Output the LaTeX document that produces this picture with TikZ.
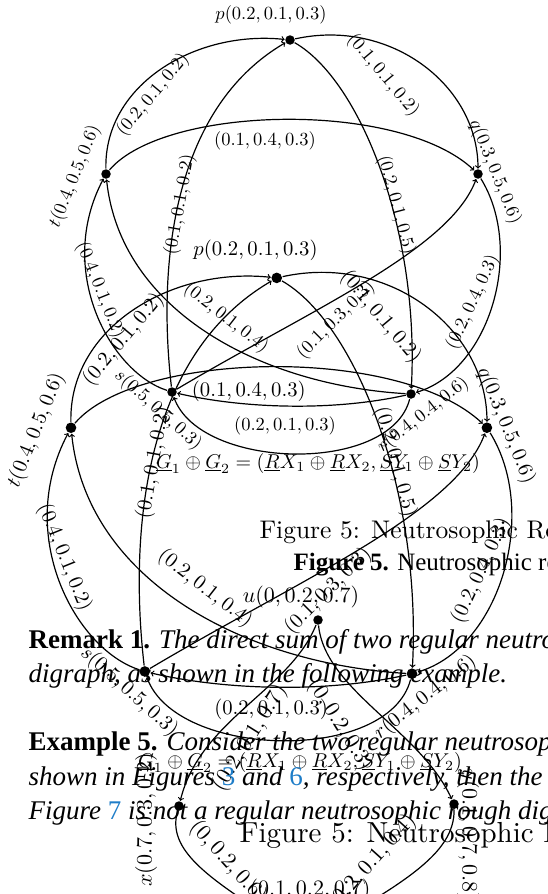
\documentclass[tikz,border=0pt]{standalone}
\usepackage{fontspec}
\usepackage{amsmath}
\usetikzlibrary{calc}

\newfontfamily\bodyfont{Liberation Serif}
\definecolor{refblue}{RGB}{30,125,200}

% one copy of the rough digraph, #1 = name prefix
\newcommand{\roughgraph}[1]{%
  \node[dot] (#1p) at (290,40) {};
  \node[dot] (#1t) at (106,174) {};
  \node[dot] (#1q) at (478,174) {};
  \node[dot] (#1s) at (172,392) {};
  \node[dot] (#1r) at (411,394) {};
  \node[lab] (#1lp) at (271,15) {$p(0.2,0.1,0.3)$};
  \node[lab,rotate=68] (#1lt) at (75,176) {$t(0.4,0.5,0.6)$};
  \node[lab,rotate=-68] (#1lq) at (495,172) {$q(0.3,0.5,0.6)$};
  \node[lab,rotate=-42] (#1ls) at (158,410) {$s(0.5,0.5,0.3)$};
  \node[lab,rotate=38] (#1lr) at (423,415) {$r(0.4,0.4,0.6)$};
  \draw[->] (#1t) .. controls (104,85) and (195,30) .. (#1p);
  \draw[->] (#1p) .. controls (390,18) and (478,85) .. (#1q);
  \draw[->] (#1t) .. controls (165,105) and (400,100) .. (#1q);
  \draw[->] (#1s) .. controls (158,270) and (170,110) .. (#1p);
  \draw[->] (#1p) .. controls (360,80) and (420,230) .. (#1r);
  \draw[->] (#1s) .. controls (110,372) and (55,270) .. (#1t);
  \draw[->] (#1r) .. controls (260,385) and (120,310) .. (#1t);
  \draw[->] (#1s) .. controls (310,310) and (450,250) .. (#1q);
  \draw[->] (#1r) .. controls (330,412) and (240,408) .. (#1s);
  \draw[->] (#1q) .. controls (525,250) and (490,370) .. (#1r);
  \draw[->] (#1r) .. controls (390,475) and (200,470) .. (#1s);
  \node[lab,rotate=50] (#1e1) at (153,95) {$(0.2,0.1,0.2)$};
  \node[lab,rotate=-50] (#1e2) at (383,75) {$(0.1,0.1,0.2)$};
  \node[lab] (#1e3) at (265,141) {$(0.1,0.4,0.3)$};
  \node[lab,rotate=80] (#1e4) at (180,205) {$(0.1,0.1,0.2)$};
  \node[lab,rotate=-75] (#1e5) at (396,205) {$(0.2,0.1,0.5)$};
  \node[lab,rotate=-68] (#1e6) at (100,290) {$(0.4,0.1,0.2)$};
  \node[lab,rotate=-38] (#1e7) at (226,318) {$(0.2,0.1,0.4)$};
  \node[lab,rotate=45] (#1e8) at (336,320) {$(0.1,0.3,0.3)$};
  \node[lab,rotate=65] (#1e10) at (473,302) {$(0.2,0.4,0.3)$};
  \node[lab] (#1e11) at (285,426) {$(0.2,0.1,0.3)$};
}

\begin{document}
\begin{tikzpicture}[x=1pt,y=-1pt,line width=1.2pt,>=to,
  dot/.style={circle,fill,inner sep=0pt,minimum size=9.5pt},
  lab/.style={scale=1.85,inner sep=0pt},
  biglab/.style={scale=2.2,inner sep=0pt},
  body/.style={font=\fontsize{27}{34}\bodyfont,inner sep=0pt,anchor=base west}]
\useasboundingbox (0,0) rectangle (547,894);

% first copy
\roughgraph{a}
\node[scale=2.0,inner sep=0pt] (acap) at (318,463)
  {$\underline{G}_1\oplus\underline{G}_2=(\underline{R}X_1\oplus\underline{R}X_2,\underline{S}Y_1\oplus\underline{S}Y_2)$};
\node[scale=2.55,inner sep=0pt,anchor=base west] (afig) at (258,538) {Figure 5: Neutrosophic Rough Digraph};

% second, larger copy
\begin{scope}[shift={(-47.5,233.2)},scale=1.118,transform shape]
\roughgraph{b}
\end{scope}
\node[scale=2.0,inner sep=0pt] (bcap) at (300,762)
  {$\underline{G}_1\oplus\underline{G}_2=(\underline{R}X_1\oplus\underline{R}X_2,\underline{S}Y_1\oplus\underline{S}Y_2)$};
\node[scale=2.9,inner sep=0pt,anchor=base west] (bfig) at (238,842) {Figure 5: Neutrosophic Rough Digraph};

% third graph
\node[dot] (u) at (318,620) {};
\node[dot] (x) at (179,806) {};
\node[dot] (y) at (454,804) {};
\coordinate (w) at (305,940);
\node[biglab] (lu) at (301,597) {$u(0,0.2,0.7)$};
\node[biglab,rotate=90] (lx) at (146,820) {$x(0.7,0.3,0.2)$};
\node[biglab,rotate=-90] (ly) at (468,835) {$y(0.1,0.7,0.8)$};
\draw[->] (u) .. controls (290,690) and (200,720) .. (x);
\draw[->] (u) .. controls (325,690) and (420,730) .. (y);
\draw (x) .. controls (165,855) and (220,885) .. (w);
\draw (y) .. controls (455,855) and (400,885) .. (w);
\node[biglab,rotate=58] (eux) at (250,738) {$(0.2,0.1,0.7)$};
\node[biglab,rotate=-58] (euy) at (340,725) {$(0,0.2,0.3)$};
\node[biglab,rotate=-48] (exw) at (228,862) {$(0,0.2,0.6)$};
\node[biglab,rotate=48] (eyw) at (372,862) {$(0.2,0.1,0.4)$};
\node[biglab] (lw) at (310,890) {$(0.1,0.2,0.7)$};

% page text
\node[body,font=\fontsize{25}{30}\bodyfont] (fig5) at (293,570) {\textbf{Figure 5.} Neutrosophic rough digraph};
\node[body] (rem1) at (28,648) {\textbf{Remark 1.} \textit{The direct sum of two regular neutrosophic rough}};
\node[body] (rem2) at (28,682) {\textit{digraph, as shown in the following example.}};
\node[body] (ex1) at (28,750) {\textbf{Example 5.} \textit{Consider the two regular neutrosophic rough}};
\node[body] (ex2) at (28,785) {\textit{shown in Figures \textcolor{refblue}{\upshape 3} and \textcolor{refblue}{\upshape 6}, respectively, then the direct sum}};
\node[body] (ex3) at (28,819) {\textit{Figure \textcolor{refblue}{\upshape 7} is not a regular neutrosophic rough digraph.}};
\end{tikzpicture}
\end{document}
